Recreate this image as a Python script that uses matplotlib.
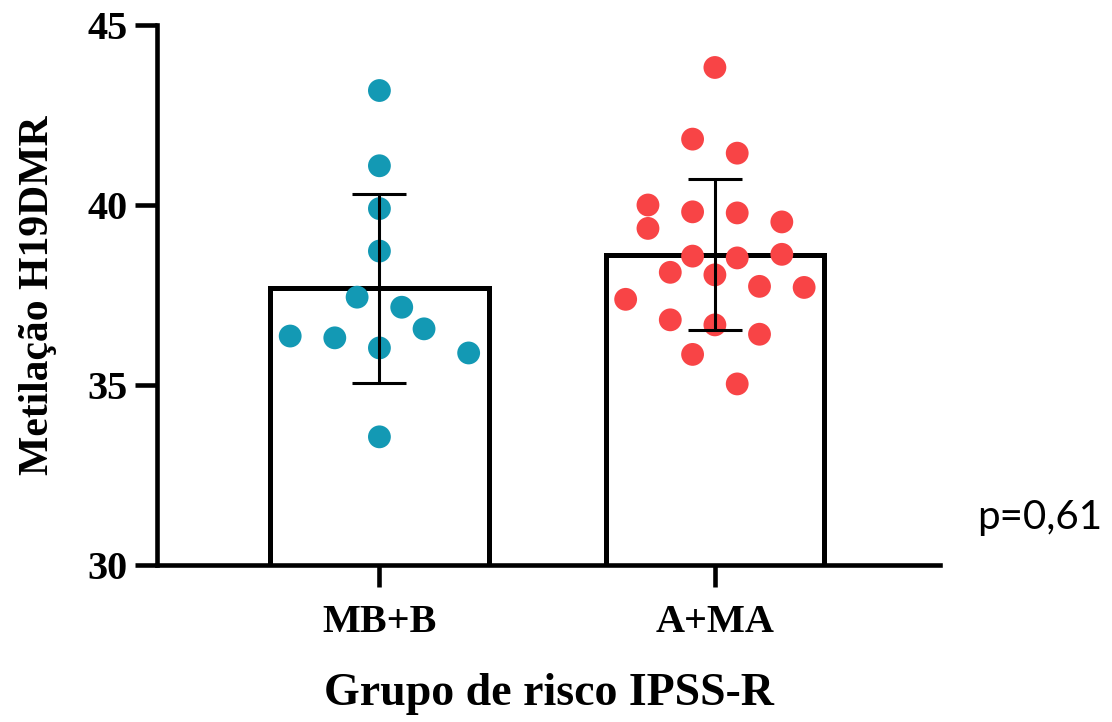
import numpy as np
import matplotlib
matplotlib.use("Agg")
import matplotlib.pyplot as plt

groups = ["MB+B", "A+MA"]

# individual values per group
mb_vals = [43.18, 41.09, 39.90, 38.72, 37.44, 37.16, 36.36, 36.31, 36.56, 36.03, 35.89, 33.56]
am_vals = [43.82, 41.83, 41.44, 40.00, 39.81, 39.78, 39.53, 39.35, 38.58, 38.53, 38.63,
           38.13, 38.06, 37.38, 37.74, 37.71, 36.81, 36.67, 36.41, 35.85, 35.03]

# horizontal slot of each dot (scatter layout)
mb_slot = [0, 0, 0, 0, -1, 1, -4, -2, 2, 0, 4, 0]
am_slot = [0, -1, 1, -3, -1, 1, 3, -3, -1, 1, 3, -2, 0, -4, 2, 4, -2, 0, 2, -1, 1]

colors = ["#1399b4", "#f84446"]
p_text = "p=0,61"

fig = plt.figure(figsize=(11.12, 7.22), dpi=100)
ax = fig.add_axes([157 / 1112, 1 - 565 / 722, (940 - 157) / 1112, (565 - 25) / 722])

serif = "Liberation Serif"
step = 0.0665
xs = np.arange(len(groups))
data = [mb_vals, am_vals]
slots = [mb_slot, am_slot]

means = [np.mean(v) for v in data]
sds = [np.std(v, ddof=1) for v in data]

ax.bar(xs, means, width=0.652, color="white", edgecolor="black", linewidth=3.6, zorder=1)
for i, (vals, sl) in enumerate(zip(data, slots)):
    ax.scatter(i + np.array(sl) * step, vals, s=270, color=colors[i], edgecolors="none", zorder=2)
ax.errorbar(xs, means, yerr=sds, fmt="none", ecolor="black", elinewidth=2.2,
            capsize=19.5, capthick=2.2, zorder=3)

ax.set_xlim(-0.663, 1.671)
ax.set_ylim(30, 45)
ax.set_yticks([30, 35, 40, 45])
ax.set_xticks(xs)
ax.set_xticklabels(groups)

for s in ["top", "right"]:
    ax.spines[s].set_visible(False)
for s in ["left", "bottom"]:
    ax.spines[s].set_linewidth(3.3)
    ax.spines[s].set_capstyle("projecting")

ax.tick_params(axis="both", width=3.3, length=16, labelsize=29, pad=5)
ax.tick_params(axis="x", pad=12)
for lab in ax.get_xticklabels() + ax.get_yticklabels():
    lab.set_fontfamily(serif)
    lab.set_fontweight("bold")

ax.set_ylabel("Metilação H19DMR", fontsize=30, fontfamily=serif, fontweight="bold", labelpad=22)
ax.set_xlabel("Grupo de risco IPSS-R", fontsize=33, fontfamily=serif, fontweight="bold", labelpad=23)

fig.text(977 / 1112, 1 - 518 / 722, p_text, fontsize=29, fontfamily="Lato", va="center", ha="left")

fig.savefig("out.png", dpi=100)
